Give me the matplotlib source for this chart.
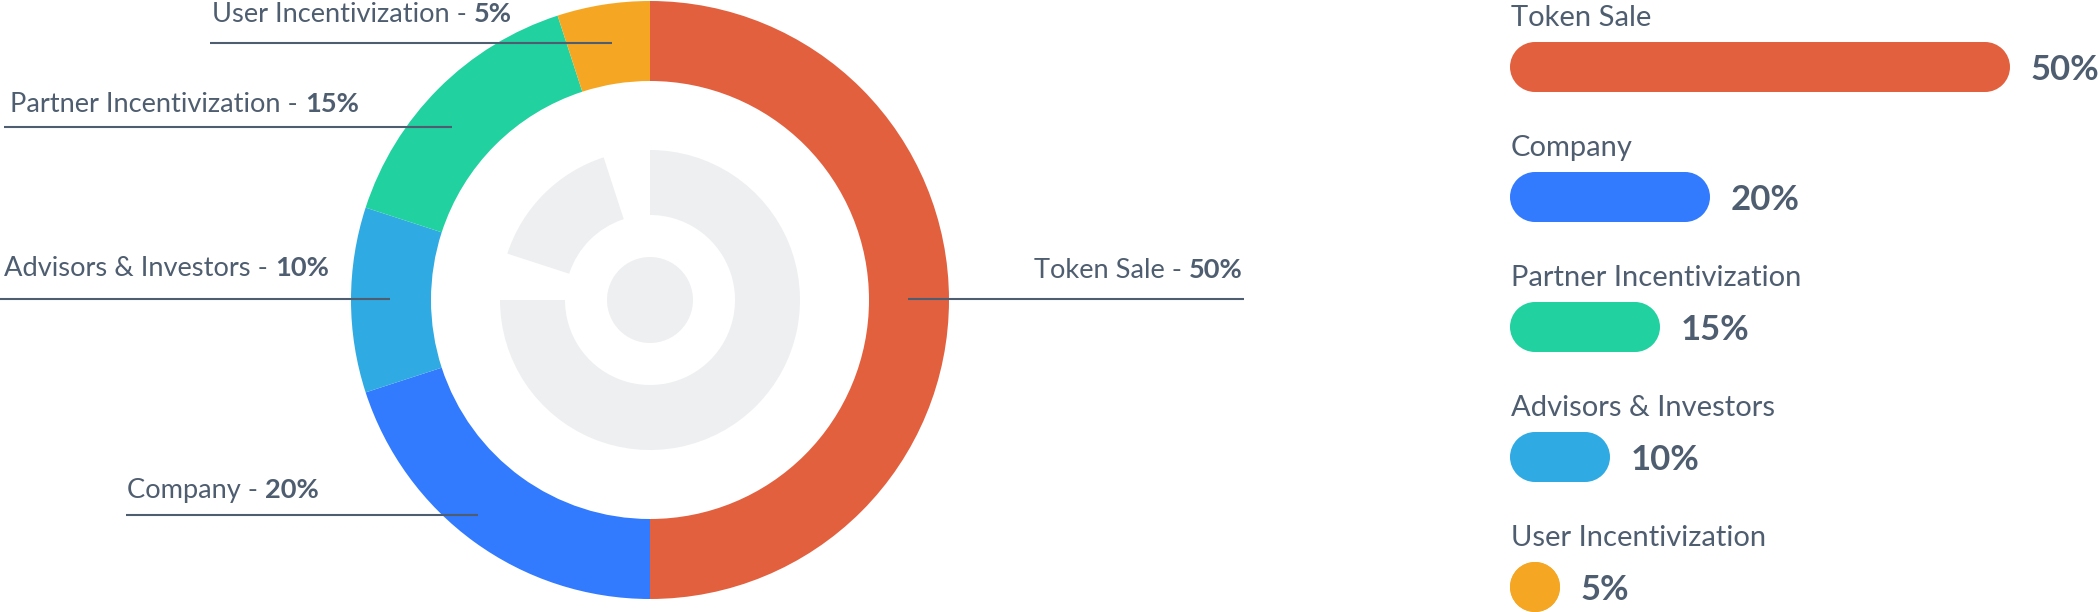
import matplotlib.pyplot as plt
from matplotlib.patches import Wedge, Circle, Rectangle

plt.rcParams['font.family'] = ['Lato', 'DejaVu Sans']

# token allocation, in the order the donut is drawn (clockwise from the top)
categories = ['Token Sale', 'Company', 'Advisors & Investors',
              'Partner Incentivization', 'User Incentivization']
shares = [50, 20, 10, 15, 5]
colors = ['#E3603F', '#327AFE', '#2FAAE3', '#21D1A0', '#F5A724']

# the list on the right is sorted by size
bar_order = ['Token Sale', 'Company', 'Partner Incentivization',
             'Advisors & Investors', 'User Incentivization']

W, H = 2098, 612
TXT = '#4E5D6F'
GREY = '#EEEFF1'

fig = plt.figure(figsize=(W / 100, H / 100), dpi=100)
ax = fig.add_axes([0, 0, 1, 1])

# donut
cx, cy = 650, H - 300
ax.pie(shares, colors=colors, startangle=90, counterclock=False,
       radius=299, center=(cx, cy),
       wedgeprops=dict(width=80, linewidth=0))

# grey icon in the middle
ax.add_patch(Wedge((cx, cy), 150, 180, 450, width=65, color=GREY, lw=0))
ax.add_patch(Wedge((cx, cy), 150, 108, 162, width=65, color=GREY, lw=0))
ax.add_patch(Circle((cx, cy), 43, color=GREY, lw=0))

ax.set_xlim(0, W)
ax.set_ylim(0, H)
ax.set_aspect('equal')
ax.axis('off')

renderer = fig.canvas.get_renderer()


def two_part(x, y_img, regular, bold, ha='left', size=19.6):
    # regular text followed by a bold percentage, on one baseline
    y = H - y_img
    kw = dict(color=TXT, fontsize=size, va='baseline')
    if ha == 'left':
        t = ax.text(x, y, regular, ha='left', **kw)
        w = t.get_window_extent(renderer).width
        ax.text(x + w, y, bold, ha='left', fontweight='bold', **kw)
    else:
        b = ax.text(x, y, bold, ha='right', fontweight='bold', **kw)
        w = b.get_window_extent(renderer).width
        ax.text(x - w, y, regular, ha='right', **kw)


# callouts: text x, baseline, alignment, underline y, underline x-range
callouts = {
    'Token Sale': (1243, 278, 'right', 299, 908, 1244),
    'Company': (127, 498, 'left', 515, 126, 478),
    'Advisors & Investors': (4, 276, 'left', 299, 0, 390),
    'Partner Incentivization': (10, 112, 'left', 127, 4, 452),
    'User Incentivization': (212, 22, 'left', 43, 210, 612),
}
for name, v in zip(categories, shares):
    tx, ty, ha, ly, lx0, lx1 = callouts[name]
    two_part(tx, ty, name + ' - ', f'{v}%', ha=ha)
    ax.plot([lx0, lx1], [H - ly, H - ly], color=TXT, lw=1.5,
            solid_capstyle='butt')

# pill-shaped bars on the right
x0, px_per_pct, bar_h = 1510, 10, 50
r = bar_h / 2
for i, name in enumerate(bar_order):
    k = categories.index(name)
    v = shares[k]
    length = v * px_per_pct
    yc = H - (67 + 130 * i)
    c = colors[k]
    ax.add_patch(Rectangle((x0 + r, yc - r), length - 2 * r, bar_h,
                           fc=c, lw=0))
    ax.add_patch(Circle((x0 + r, yc), r, fc=c, lw=0))
    ax.add_patch(Circle((x0 + length - r, yc), r, fc=c, lw=0))
    ax.text(x0 + 1, yc + 41, name, color=TXT, fontsize=21, va='baseline')
    ax.text(x0 + length + 21, yc - 13, f'{v}%', color=TXT,
            fontsize=25, fontweight='bold', va='baseline')

fig.savefig('out.png', dpi=100)
